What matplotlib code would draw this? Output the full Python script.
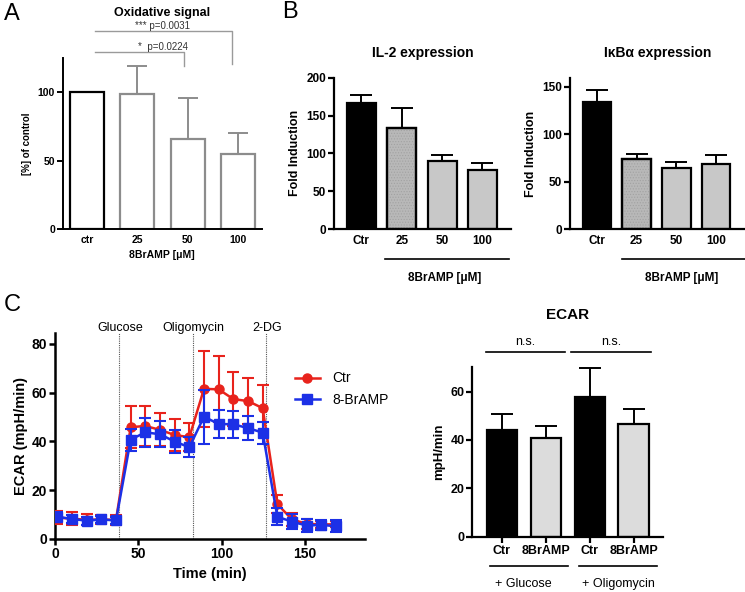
import matplotlib
matplotlib.use("Agg")
import matplotlib.pyplot as plt
from matplotlib.lines import Line2D
import numpy as np

plt.rcParams['font.family'] = ['Liberation Sans', 'DejaVu Sans']

# ---------------- data ----------------
# Panel A
a_cats = ["ctr", "25", "50", "100"]
a_vals = [100, 99, 66, 54.5]
a_err = [0, 20, 30, 16]

# Panel B
il2_cats = ["Ctr", "25", "50", "100"]
il2_vals = [166, 133.5, 89.5, 78]
il2_err = [11, 27, 8.5, 9]

ikb_cats = ["Ctr", "25", "50", "100"]
ikb_vals = [133.5, 74, 64.5, 68.5]
ikb_err = [13.5, 5, 6.5, 9.5]

# Panel C (time course)
time_min = [1.4, 10.2, 19.0, 27.8, 36.6, 45.4, 54.2, 63.0, 71.8, 80.6,
            89.4, 98.2, 107.0, 115.8, 124.6, 133.4, 142.2, 151.0, 159.8, 168.6]
ctr_ecar = [8.8, 8.3, 7.9, 8.0, 7.8, 45.8, 46.3, 44.7, 42.6, 41.7,
            61.5, 61.3, 57.3, 56.5, 53.6, 14.3, 8.0, 6.2, 6.0, 6.0]
ctr_sd = [2.6, 2.6, 2.2, 2.0, 2.0, 8.7, 8.2, 6.8, 6.6, 5.7,
          15.5, 13.5, 11.0, 9.6, 9.5, 3.7, 2.6, 2.0, 1.5, 1.2]
br_ecar = [9.1, 8.2, 7.5, 8.0, 7.6, 40.7, 43.7, 42.9, 39.9, 37.6,
           50.1, 47.1, 47.0, 45.4, 43.6, 9.1, 7.1, 5.5, 5.8, 5.2]
br_sd = [1.8, 1.6, 1.6, 1.4, 1.6, 4.5, 6.0, 5.3, 4.7, 4.0,
         11.0, 5.7, 5.5, 4.8, 4.5, 3.5, 3.0, 2.5, 2.0, 2.5]
injections = ["Glucose", "Oligomycin", "2-DG"]
injection_times = [38.5, 82.8, 126.8]

# Panel C (bar summary)
ecar_cats = ["Ctr", "8BrAMP", "Ctr", "8BrAMP"]
ecar_vals = [43.9, 40.8, 57.9, 46.5]
ecar_err = [6.9, 5.1, 11.8, 6.4]
ecar_groups = ["+ Glucose", "+ Oligomycin"]

# ---------------- figure ----------------
W, H = 745, 592
fig = plt.figure(figsize=(W / 100, H / 100), dpi=100)


def ax_px(left, top, right, bottom):
    return fig.add_axes([left / W, 1 - bottom / H, (right - left) / W, (bottom - top) / H])


def px_to_fig(x, y):
    return x / W, 1 - y / H


def style_axes(ax, lw, tick_fs, xtick_len=0, pad=4):
    for s in ['top', 'right']:
        ax.spines[s].set_visible(False)
    for s in ['left', 'bottom']:
        ax.spines[s].set_linewidth(lw)
    ax.tick_params(axis='y', direction='out', length=4, width=lw, labelsize=tick_fs, pad=1.5)
    ax.tick_params(axis='x', direction='out', length=xtick_len, width=lw, labelsize=tick_fs, pad=pad)
    for lab in ax.get_xticklabels() + ax.get_yticklabels():
        lab.set_fontweight('bold')


def upper_err(ax, x, vals, errs, colors, capsize):
    for xi, v, e, c in zip(x, vals, errs, colors):
        if e > 0:
            ax.errorbar([xi], [v], yerr=[[0], [e]], fmt='none', ecolor=c,
                        elinewidth=1.4, capsize=capsize, capthick=1.4, zorder=1)


# ---- Panel A ----
axA = ax_px(62.7, 58, 262, 229)
xa = np.arange(len(a_cats))
a_edge = ['black', '#8c8c8c', '#8c8c8c', '#8c8c8c']
upper_err(axA, xa, a_vals, a_err, a_edge, 7.5)
axA.bar(xa, a_vals, width=0.67, facecolor='white', edgecolor=a_edge, linewidth=1.6, zorder=2)
axA.set_xlim(-0.48, 3.47)
axA.set_ylim(0, 125)
axA.set_yticks([0, 50, 100])
axA.set_xticks(xa)
axA.set_xticklabels(a_cats)
style_axes(axA, 1.4, 7.5, pad=4)
axA.set_ylabel("[%] of control", fontsize=7, fontweight='bold', labelpad=4)
axA.set_xlabel("8BrAMP [\u03bcM]", fontsize=7.5, fontweight='bold', labelpad=4)
fig.text(*px_to_fig(162, 13), "Oxidative signal", ha='center', va='center',
         fontsize=9, fontweight='bold')
# significance brackets
bc = '#9a9a9a'
axA.plot([0.16, 2.87, 2.87], [144.7, 144.7, 120.6], color=bc, lw=1.0, clip_on=False)
axA.plot([0.16, 1.92, 1.92], [129.4, 129.4, 119.0], color=bc, lw=1.0, clip_on=False)
axA.text(1.5, 146.2, "*** p=0.0031", ha='center', va='baseline', fontsize=7, color='#333333')
axA.text(1.5, 130.9, "*  p=0.0224", ha='center', va='baseline', fontsize=7, color='#333333')


# ---- Panel B ----
def panel_b(ax, cats, vals, errs, ylim, yticks, title, title_xy, line_px, text_xy):
    x = np.arange(len(cats))
    fills = ['black', '#b8b8b8', '#c8c8c8', '#c8c8c8']
    upper_err(ax, x, vals, errs, ['black'] * len(x), 8)
    ax.bar(x, vals, width=0.72, color=fills, edgecolor='black', linewidth=1.6, zorder=2)
    ax.bar(x[1], vals[1], width=0.72, facecolor='none', edgecolor='#a2a2a2', hatch='......',
           linewidth=0, zorder=3)
    ax.bar(x[1], vals[1], width=0.72, facecolor='none', edgecolor='black', linewidth=1.6, zorder=4)
    ax.set_ylim(*ylim)
    ax.set_yticks(yticks)
    ax.set_xticks(x)
    ax.set_xticklabels(cats)
    style_axes(ax, 1.6, 8.5, pad=4.5)
    ax.set_ylabel("Fold Induction", fontsize=9, fontweight='bold', labelpad=4)
    fig.text(*px_to_fig(*title_xy), title, ha='center', va='center', fontsize=10, fontweight='bold')
    x0, x1, yl = line_px
    fig.add_artist(plt.Line2D([x0 / W, x1 / W], [1 - yl / H, 1 - yl / H], color='black', lw=1.2))
    fig.text(*px_to_fig(*text_xy), "8BrAMP [\u03bcM]", ha='center', va='center',
             fontsize=8.5, fontweight='bold')


plt.rcParams['hatch.linewidth'] = 0.5
axB1 = ax_px(334, 77.7, 510.7, 229)
panel_b(axB1, il2_cats, il2_vals, il2_err, (0, 200), [0, 50, 100, 150, 200],
        "IL-2 expression", (423, 53), (385, 509, 259), (445, 277.7))
axB1.set_xlim(-0.68, 3.7)

axB2 = ax_px(570, 78, 744, 229)
panel_b(axB2, ikb_cats, ikb_vals, ikb_err, (0, 159.2), [0, 50, 100, 150],
        "I\u03baB\u03b1 expression", (658, 53), (621.7, 745, 259), (681.7, 277.7))
axB2.set_xlim(-0.675, 3.7)

# ---- Panel C left: time course ----
axC = ax_px(55, 332.7, 365, 539)
red = '#e8231c'
blue = '#1c30e6'
axC.errorbar(time_min, ctr_ecar, yerr=ctr_sd, color=red, lw=1.8, marker='o', ms=6.5,
             elinewidth=1.5, capsize=4.5, capthick=1.5, zorder=3)
axC.errorbar(time_min, br_ecar, yerr=br_sd, color=blue, lw=1.8, marker='s', ms=6.5,
             elinewidth=1.5, capsize=4.5, capthick=1.5, zorder=4)
for name, t in zip(injections, injection_times):
    axC.axvline(t, color='#555555', lw=0.8, ls=(0, (1, 1)), zorder=1)
    axC.text(t + 0.5, 85.2, name, ha='center', va='baseline', fontsize=9)
axC.set_xlim(0, 186)
axC.set_ylim(0, 84.5)
axC.set_xticks([0, 50, 100, 150])
axC.set_yticks([0, 20, 40, 60, 80])
style_axes(axC, 1.8, 10, xtick_len=4, pad=2)
axC.set_ylabel("ECAR (mpH/min)", fontsize=10.5, fontweight='bold', labelpad=3)
axC.set_xlabel("Time (min)", fontsize=10.5, fontweight='bold', labelpad=4)
handles = [Line2D([], [], color=red, lw=1.8, marker='o', ms=6.5),
           Line2D([], [], color=blue, lw=1.8, marker='s', ms=6.5)]
leg = axC.legend(handles, ['Ctr', '8-BrAMP'], loc='upper left',
                 bbox_to_anchor=px_to_fig(282, 359),
                 bbox_transform=fig.transFigure, frameon=False, fontsize=10,
                 handlelength=1.8, handletextpad=0.9, labelspacing=0.55)

# ---- Panel C right: ECAR bars ----
axD = ax_px(472.3, 367.3, 663.3, 536.7)
xd = np.arange(len(ecar_cats))
d_fill = ['black', '#dcdcdc', 'black', '#dcdcdc']
upper_err(axD, xd, ecar_vals, ecar_err, ['black'] * len(xd), 8)
axD.bar(xd, ecar_vals, width=0.70, color=d_fill, edgecolor='black', linewidth=1.6, zorder=2)
axD.set_xlim(-0.675, 3.67)
axD.set_ylim(0, 70)
axD.set_yticks([0, 20, 40, 60])
axD.set_xticks(xd)
axD.set_xticklabels(ecar_cats)
style_axes(axD, 1.6, 9, xtick_len=4, pad=2)
axD.set_ylabel("mpH/min", fontsize=9.5, fontweight='bold', labelpad=4)
fig.text(*px_to_fig(568, 315), "ECAR", ha='center', va='center', fontsize=11, fontweight='bold')
for (x0, x1) in [(-0.36, 1.43), (1.58, 3.38)]:
    axD.plot([x0, x1], [76.5, 76.5], color='black', lw=1.2, clip_on=False)
    axD.text((x0 + x1) / 2, 78.0, "n.s.", ha='center', va='bottom', fontsize=9)
for name, (x0, x1), xc in zip(ecar_groups, [(490, 568), (579, 656.7)], [523, 618]):
    fig.add_artist(plt.Line2D([x0 / W, x1 / W], [1 - 565.7 / H] * 2, color='black', lw=1.2))
    fig.text(*px_to_fig(xc, 584), name, ha='center', va='center', fontsize=9)

# panel letters
for lab, (px, py) in zip(["A", "B", "C"], [(12, 14.5), (290, 12.5), (12, 305)]):
    fig.text(*px_to_fig(px, py), lab, ha='center', va='center', fontsize=17)

fig.savefig("out.png", dpi=100)
